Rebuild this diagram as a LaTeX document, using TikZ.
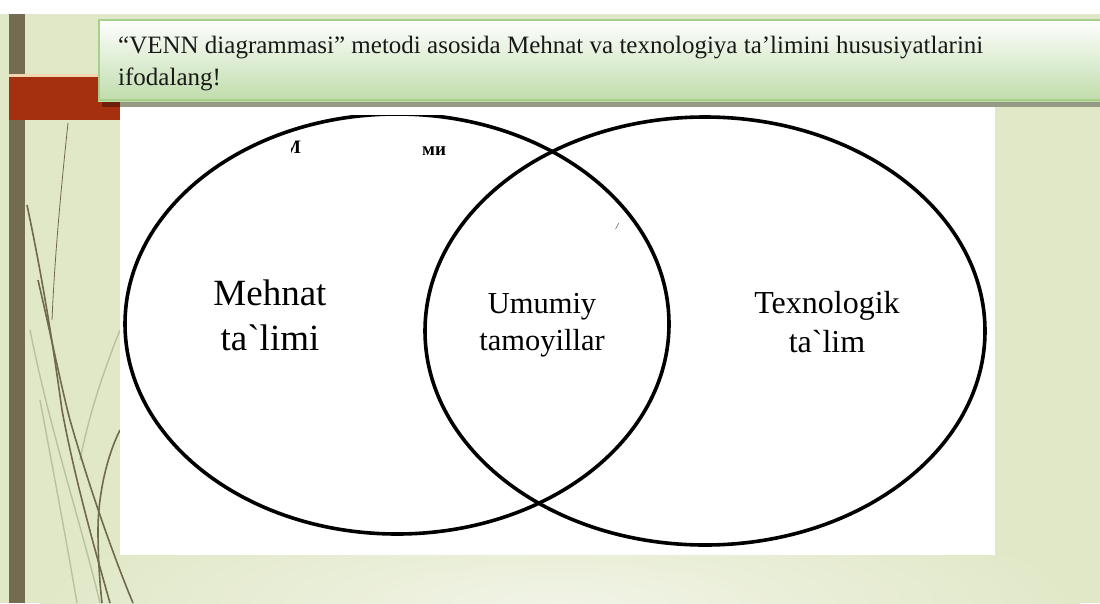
\documentclass[tikz,border=0pt]{standalone}
\usepackage{fontspec}
\setmainfont{Liberation Serif}
\newfontfamily\rawserif{Liberation Serif}[Ligatures=TeXOff]
\definecolor{bgg}{HTML}{E1E8C8}
\definecolor{bglight}{HTML}{F1F4E6}
\definecolor{barc}{HTML}{746C50}
\definecolor{redc}{HTML}{A5300F}
\definecolor{peach}{HTML}{F2D6B2}
\definecolor{hdrg}{HTML}{BFDCAB}
\definecolor{hdrm}{HTML}{F0F7EC}
\definecolor{hdrb}{HTML}{A6D08A}
\definecolor{grassd}{HTML}{6F6A4C}
\definecolor{grassl}{HTML}{B9C1A0}
\tikzset{
  venn/.style={draw=black, line width=3.6pt},
  hdrtext/.style={anchor=base west, inner sep=0pt, font=\fontsize{25}{30}\selectfont, text=black!90},
  biglabel/.style={anchor=base, inner sep=0pt, font=\rawserif\fontsize{37}{40}\selectfont},
  midlabel/.style={anchor=base, inner sep=0pt, font=\rawserif\fontsize{30.5}{34}\selectfont},
  rightlabel/.style={anchor=base, inner sep=0pt, font=\rawserif\fontsize{32}{36}\selectfont},
  fraglabel/.style={anchor=base west, inner sep=0pt, font=\bfseries\fontsize{19}{22}\selectfont},
  grassdark/.style={draw=grassd, line width=1.6pt},
  grassthin/.style={draw=grassd, line width=0.8pt},
  grasslight/.style={draw=grassl, line width=1.4pt}
}
\begin{document}
\begin{tikzpicture}[x=1pt,y=-1pt]
\useasboundingbox (0,0) rectangle (1100,603);
% background
\fill[white] (0,0) rectangle (1100,603);
\fill[bgg] (0,14) rectangle (1100,603);
\begin{scope}
  \clip (25,555) rectangle (1100,603);
  \shade[inner color=bglight, outer color=bgg] (560,603) ellipse [x radius=520, y radius=110];
\end{scope}
% left bar
\fill[barc] (9,14) rectangle (25,603);
% grass decoration
\draw[grasslight] (30,330) .. controls (50,430) and (80,520) .. (100,603);
\draw[grasslight] (120,330) .. controls (100,380) and (88,420) .. (80,460);
\draw[grasslight] (40,400) .. controls (55,480) and (68,550) .. (77,603);
\draw[grassthin] (68,123) .. controls (62,180) and (55,250) .. (52,320);
\draw[grassdark] (27,205) .. controls (45,290) and (55,360) .. (62,410) .. controls (75,480) and (95,550) .. (110,603);
\draw[grassdark] (38,280) .. controls (52,340) and (62,390) .. (70,420) .. controls (90,490) and (115,560) .. (133,603);
\draw[grassdark] (120,430) .. controls (105,460) and (98,500) .. (98,530) .. controls (98,560) and (100,585) .. (102,603);
% red bar
\fill[peach] (9,74) rectangle (120,77);
\fill[redc] (9,77) rectangle (120,120);
% white panel
\fill[white] (120,107) rectangle (995,555);
% header shadow and box
\fill[black, opacity=0.33] (102,101) rectangle (1104,107);
\shade[top color=white, middle color=hdrm, bottom color=hdrg] (98,19) rectangle (1104,101);
\draw[hdrb, line width=2pt] (1104,20) -- (99,20) -- (99,100) -- (1104,100);
\node[hdrtext] (h1) at (118,53) {“VENN diagrammasi” metodi asosida Mehnat va texnologiya ta’limini hususiyatlarini};
\node[hdrtext] (h2) at (118,85) {ifodalang!};
% venn ellipses
\draw[venn] (397,324) ellipse [x radius=272, y radius=210];
\draw[venn] (705,331) ellipse [x radius=280, y radius=214];
% white patches covering remnants
\fill[white] (300,107) rectangle (800,115.2);
% fragments
\node[fraglabel] (f1) at (283,153) {М};
\fill[white] (278,138) rectangle (291,156);
\node[fraglabel] (f2) at (422,155) {ми};
\node[anchor=base, inner sep=0pt, font=\itshape\fontsize{9}{10}\selectfont] (f3) at (617,229) {/};
% labels
\node[biglabel] (m1) at (270,305) {Mehnat};
\node[biglabel] (m2) at (270,350) {ta`limi};
\node[midlabel] (u1) at (542,313) {Umumiy};
\node[midlabel] (u2) at (542,350) {tamoyillar};
\node[rightlabel] (t1) at (827,313) {Texnologik};
\node[rightlabel] (t2) at (827,352) {ta`lim};
\end{tikzpicture}
\end{document}
